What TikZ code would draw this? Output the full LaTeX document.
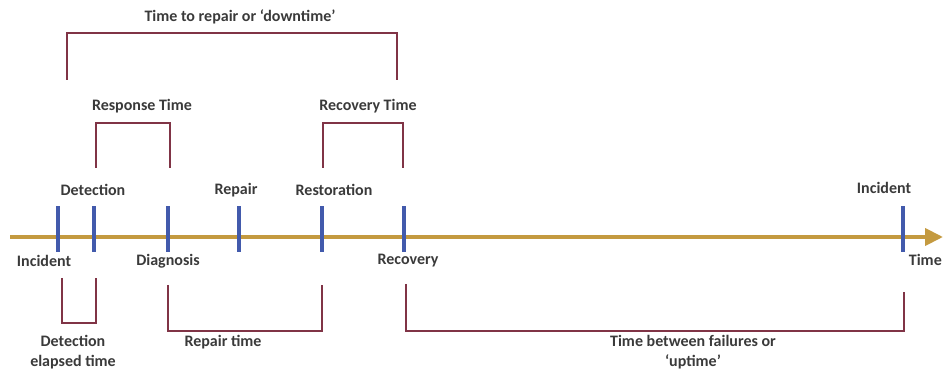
\documentclass[tikz,border=0pt]{standalone}
\usepackage{fontspec}
\setmainfont{Carlito}
\usetikzlibrary{arrows.meta}
\definecolor{gold}{RGB}{196,154,64}
\definecolor{tickblue}{RGB}{66,90,172}
\definecolor{brk}{RGB}{128,52,70}
\definecolor{txt}{RGB}{58,58,58}
\begin{document}
\begin{tikzpicture}[x=1pt,y=-1pt,
  lbl/.style={font=\bfseries\fontsize{16}{20}\selectfont, text=txt, inner sep=0pt, align=center},
  tickmark/.style={rectangle, fill=tickblue, minimum width=4.5pt, minimum height=46pt, inner sep=0pt},
  brack/.style={draw=brk, line width=1.3pt},
  axis/.style={draw=gold, line width=4pt, -{Triangle[length=18pt,width=17pt]}}]
\useasboundingbox (0,0) rectangle (943,374);
% timeline
\coordinate (tstart) at (10,237);
\coordinate (tend) at (943,237);
\draw[axis] (tstart) -- (tend);
% ticks
\node[tickmark] (inc) at (58,229) {};
\node[tickmark] (det) at (94,229) {};
\node[tickmark] (diag) at (168,229) {};
\node[tickmark] (rep) at (239,229) {};
\node[tickmark] (rest) at (322,229) {};
\node[tickmark] (rec) at (404,229) {};
\node[tickmark] (inc2) at (903,229) {};
% tick labels
\node[lbl] (linc) at (44,261) {Incident};
\node[lbl] (ldet) at (93,190) {Detection};
\node[lbl] (ldiag) at (168,261) {Diagnosis};
\node[lbl] (lrep) at (236,190) {Repair};
\node[lbl] (lrest) at (334,190) {Restoration};
\node[lbl] (lrec) at (408,261) {Recovery};
\node[lbl] (linc2) at (884,188) {Incident};
\node[lbl, anchor=east] (ltime) at (942,260) {Time};
% downtime bracket
\coordinate (dA) at (67,80); \coordinate (dB) at (67,33);
\coordinate (dC) at (397,33); \coordinate (dD) at (397,80);
\draw[brack] (dA) -- (dB) -- (dC) -- (dD);
\node[lbl] (ldown) at (240,17) {Time to repair or ‘downtime’};
% response time bracket
\coordinate (rA) at (96,168); \coordinate (rB) at (96,123);
\coordinate (rC) at (170,123); \coordinate (rD) at (170,168);
\draw[brack] (rA) -- (rB) -- (rC) -- (rD);
\node[lbl] (lresp) at (142,106) {Response Time};
% recovery time bracket
\coordinate (vA) at (323,168); \coordinate (vB) at (323,123);
\coordinate (vC) at (403,123); \coordinate (vD) at (403,168);
\draw[brack] (vA) -- (vB) -- (vC) -- (vD);
\node[lbl] (lrecov) at (368,106) {Recovery Time};
% detection elapsed bracket
\coordinate (eA) at (62,278); \coordinate (eB) at (62,323);
\coordinate (eC) at (96,323); \coordinate (eD) at (96,278);
\draw[brack] (eA) -- (eB) -- (eC) -- (eD);
\node[lbl] (lelap) at (73,352) {Detection\\elapsed time};
% repair time bracket
\coordinate (pA) at (168,285); \coordinate (pB) at (168,331);
\coordinate (pC) at (322,331); \coordinate (pD) at (322,285);
\draw[brack] (pA) -- (pB) -- (pC) -- (pD);
\node[lbl] (lrept) at (223,342) {Repair time};
% uptime bracket
\coordinate (uA) at (406,284); \coordinate (uB) at (406,331);
\coordinate (uC) at (904,331); \coordinate (uD) at (904,292);
\draw[brack] (uA) -- (uB) -- (uC) -- (uD);
\node[lbl] (lup) at (693,352) {Time between failures or\\‘uptime’};
\end{tikzpicture}
\end{document}
